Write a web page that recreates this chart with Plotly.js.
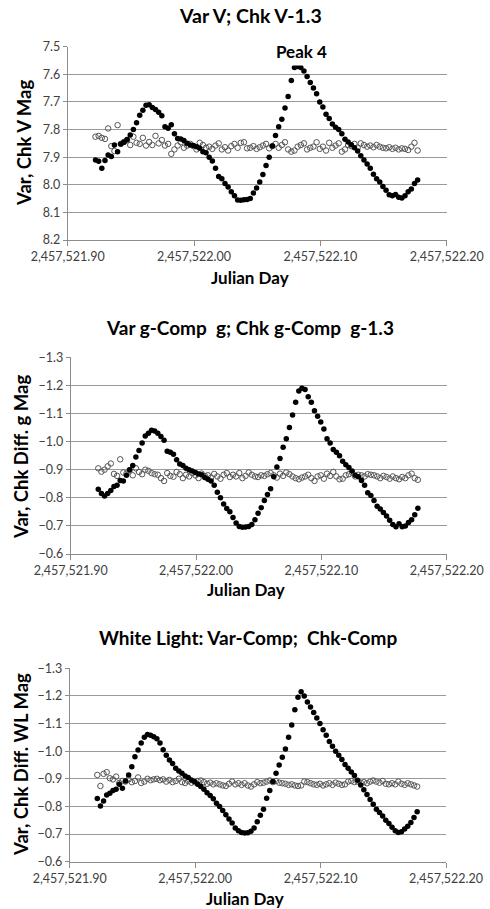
<!DOCTYPE html>
<html>
<head>
<meta charset="utf-8">
<script src="https://cdn.plot.ly/plotly-3.0.1.min.js"></script>
<style>html,body{margin:0;padding:0;background:#fff;}#chart{width:490px;height:909px;}</style>
</head>
<body>
<div id="chart"></div>
<script>
const JD0 = 2457521.9;
const dt = [
0.0220,0.0245,0.0270,0.0295,0.0320,0.0345,0.0370,0.0395,0.0420,0.0445,
0.0470,0.0495,0.0520,0.0545,0.0570,0.0595,0.0620,0.0645,0.0670,0.0695,
0.0720,0.0745,0.0770,0.0795,0.0820,0.0845,0.0870,0.0895,0.0920,0.0945,
0.0970,0.0995,0.1020,0.1045,0.1070,0.1095,0.1120,0.1145,0.1170,0.1195,
0.1220,0.1245,0.1270,0.1295,0.1320,0.1345,0.1370,0.1395,0.1420,0.1445,
0.1470,0.1495,0.1520,0.1545,0.1570,0.1595,0.1620,0.1645,0.1670,0.1695,
0.1720,0.1745,0.1770,0.1795,0.1820,0.1845,0.1870,0.1895,0.1920,0.1945,
0.1970,0.1995,0.2020,0.2045,0.2070,0.2095,0.2120,0.2145,0.2170,0.2195,
0.2220,0.2245,0.2270,0.2295,0.2320,0.2345,0.2370,0.2395,0.2420,0.2445,
0.2470,0.2495,0.2520,0.2545,0.2570,0.2595,0.2620,0.2645,0.2670,0.2695,
0.2720,0.2745,0.2770];

const varV = [
7.910,7.915,7.940,7.912,7.892,7.898,7.856,7.880,7.852,7.846,
7.836,7.820,7.800,7.775,7.748,7.730,7.712,7.710,7.720,7.727,
7.737,7.750,7.790,7.795,7.783,7.815,7.832,7.834,7.840,7.850,
7.856,7.858,7.862,7.868,7.880,7.884,7.900,7.914,7.940,7.970,
7.978,7.995,8.008,8.025,8.040,8.055,8.056,8.054,8.053,8.050,
8.030,8.012,7.990,7.963,7.930,7.900,7.860,7.822,7.790,7.763,
7.722,7.680,7.622,7.575,7.572,7.575,7.588,7.608,7.630,7.650,
7.670,7.700,7.718,7.745,7.760,7.780,7.792,7.800,7.815,7.835,
7.845,7.855,7.866,7.878,7.895,7.910,7.925,7.940,7.962,7.978,
7.990,8.006,8.020,8.036,8.040,8.035,8.045,8.048,8.040,8.025,
8.015,7.995,7.983];

const chkV = [
7.826,7.823,7.830,7.834,7.796,7.860,7.878,7.784,7.852,7.845,
7.838,7.856,7.826,7.848,7.852,7.830,7.858,7.845,7.856,7.823,
7.850,7.838,7.858,7.852,7.888,7.872,7.858,7.846,7.866,7.858,
7.852,7.860,7.872,7.848,7.856,7.866,7.862,7.870,7.858,7.850,
7.872,7.864,7.876,7.860,7.852,7.866,7.848,7.846,7.868,7.866,
7.860,7.870,7.864,7.858,7.852,7.868,7.860,7.852,7.866,7.856,
7.846,7.872,7.880,7.876,7.862,7.856,7.850,7.872,7.866,7.862,
7.846,7.870,7.862,7.876,7.848,7.866,7.858,7.850,7.880,7.872,
7.856,7.860,7.852,7.866,7.850,7.856,7.862,7.858,7.864,7.856,
7.862,7.866,7.868,7.864,7.870,7.866,7.872,7.868,7.870,7.874,
7.862,7.848,7.876];

const varG = [
-0.830,-0.815,-0.806,-0.815,-0.826,-0.840,-0.845,-0.862,-0.860,-0.880,
-0.900,-0.915,-0.945,-0.968,-0.995,-1.020,-1.030,-1.040,-1.038,-1.030,
-1.018,-1.005,-0.966,-0.962,-0.955,-0.935,-0.920,-0.915,-0.905,-0.900,
-0.895,-0.890,-0.885,-0.882,-0.872,-0.866,-0.860,-0.845,-0.820,-0.800,
-0.778,-0.762,-0.750,-0.730,-0.710,-0.698,-0.695,-0.696,-0.698,-0.705,
-0.722,-0.745,-0.765,-0.790,-0.812,-0.832,-0.875,-0.910,-0.940,-0.980,
-1.010,-1.050,-1.095,-1.140,-1.180,-1.190,-1.185,-1.160,-1.140,-1.110,
-1.090,-1.070,-1.045,-1.010,-0.995,-0.972,-0.962,-0.950,-0.930,-0.918,
-0.908,-0.895,-0.880,-0.875,-0.862,-0.845,-0.818,-0.808,-0.790,-0.770,
-0.760,-0.748,-0.735,-0.720,-0.705,-0.697,-0.708,-0.697,-0.700,-0.712,
-0.722,-0.740,-0.763];

const chkG = [
-0.905,-0.893,-0.900,-0.912,-0.922,-0.885,-0.878,-0.937,-0.890,-0.886,
-0.898,-0.880,-0.905,-0.892,-0.884,-0.900,-0.896,-0.888,-0.884,-0.882,
-0.870,-0.860,-0.888,-0.878,-0.875,-0.892,-0.884,-0.870,-0.882,-0.876,
-0.888,-0.880,-0.870,-0.886,-0.878,-0.880,-0.872,-0.885,-0.876,-0.868,
-0.882,-0.888,-0.874,-0.882,-0.876,-0.888,-0.870,-0.878,-0.890,-0.882,
-0.876,-0.874,-0.880,-0.878,-0.884,-0.888,-0.880,-0.872,-0.886,-0.878,
-0.890,-0.884,-0.876,-0.870,-0.866,-0.872,-0.876,-0.882,-0.870,-0.860,
-0.876,-0.880,-0.868,-0.886,-0.878,-0.892,-0.876,-0.866,-0.868,-0.880,
-0.884,-0.890,-0.876,-0.882,-0.880,-0.876,-0.884,-0.882,-0.880,-0.876,
-0.870,-0.878,-0.874,-0.868,-0.876,-0.870,-0.866,-0.874,-0.870,-0.880,
-0.886,-0.870,-0.864];

const varWL = [
-0.829,-0.802,-0.820,-0.841,-0.848,-0.858,-0.862,-0.880,-0.866,-0.892,
-0.914,-0.944,-0.980,-1.004,-1.030,-1.050,-1.060,-1.058,-1.052,-1.045,
-1.030,-1.005,-0.985,-0.968,-0.955,-0.938,-0.928,-0.920,-0.910,-0.905,
-0.896,-0.890,-0.880,-0.872,-0.862,-0.850,-0.840,-0.828,-0.812,-0.800,
-0.785,-0.770,-0.755,-0.740,-0.722,-0.712,-0.706,-0.704,-0.705,-0.710,
-0.722,-0.745,-0.768,-0.790,-0.830,-0.858,-0.890,-0.920,-0.950,-0.978,
-1.008,-1.050,-1.095,-1.150,-1.195,-1.215,-1.200,-1.178,-1.160,-1.140,
-1.120,-1.100,-1.078,-1.058,-1.035,-1.018,-1.000,-0.985,-0.970,-0.952,
-0.938,-0.925,-0.912,-0.895,-0.878,-0.860,-0.843,-0.825,-0.808,-0.790,
-0.778,-0.765,-0.750,-0.738,-0.725,-0.712,-0.706,-0.708,-0.718,-0.728,
-0.742,-0.760,-0.781];

const chkWL = [
-0.914,-0.874,-0.918,-0.924,-0.902,-0.898,-0.908,-0.885,-0.892,-0.890,
-0.898,-0.888,-0.892,-0.905,-0.885,-0.890,-0.900,-0.895,-0.898,-0.900,
-0.895,-0.898,-0.890,-0.896,-0.888,-0.892,-0.900,-0.888,-0.885,-0.892,
-0.886,-0.888,-0.892,-0.894,-0.888,-0.882,-0.886,-0.880,-0.884,-0.880,
-0.876,-0.874,-0.882,-0.890,-0.880,-0.884,-0.878,-0.884,-0.876,-0.872,
-0.880,-0.888,-0.884,-0.886,-0.890,-0.894,-0.888,-0.892,-0.886,-0.884,
-0.882,-0.878,-0.880,-0.876,-0.874,-0.876,-0.890,-0.888,-0.884,-0.880,
-0.878,-0.882,-0.876,-0.880,-0.884,-0.878,-0.886,-0.882,-0.878,-0.880,
-0.890,-0.892,-0.888,-0.890,-0.886,-0.888,-0.884,-0.890,-0.894,-0.890,
-0.886,-0.892,-0.882,-0.880,-0.884,-0.880,-0.890,-0.882,-0.878,-0.884,
-0.880,-0.876,-0.872];

const titles = ["Var V; Chk V-1.3", "Var g-Comp  g; Chk g-Comp  g-1.3", "White Light: Var-Comp;  Chk-Comp"];
const yTitles = ["Var, Chk V Mag", "Var, Chk Diff. g Mag", "Var, Chk Diff. WL Mag"];
const xTitle = "Julian Day";
const peakLabel = "Peak 4";

const jd = dt.map(d => JD0 + d);
const FONT = "Lato, 'Open Sans', sans-serif";

function varTrace(y, n) {
  return {x: jd, y: y, xaxis: 'x' + (n > 1 ? n : ''), yaxis: 'y' + (n > 1 ? n : ''),
    mode: 'markers', type: 'scatter', showlegend: false,
    marker: {symbol: 'circle', size: 5.5, color: '#000'}};
}
function chkTrace(y, n) {
  return {x: jd, y: y, xaxis: 'x' + (n > 1 ? n : ''), yaxis: 'y' + (n > 1 ? n : ''),
    mode: 'markers', type: 'scatter', showlegend: false,
    marker: {symbol: 'circle-open', size: 5.5, color: '#555', line: {width: 1, color: '#555'}}};
}

const data = [chkTrace(chkV, 1), varTrace(varV, 1), chkTrace(chkG, 2), varTrace(varG, 2), chkTrace(chkWL, 3), varTrace(varWL, 3)];

function xax(dom, anchor) {
  return {domain: dom, anchor: anchor, range: [JD0, JD0 + 0.3], tick0: JD0, dtick: 0.1,
    tickformat: ',.2f', showgrid: false, zeroline: false, showline: true, linecolor: '#8c8c8c', linewidth: 1,
    ticks: 'outside', ticklen: 5, tickcolor: '#8c8c8c', tickfont: {family: FONT, size: 12.5, color: '#404040'}};
}
function yax(dom, anchor, range, fmt) {
  return {domain: dom, anchor: anchor, range: range, dtick: 0.1, tickformat: fmt,
    showgrid: true, gridcolor: '#9a9a9a', gridwidth: 1, zeroline: false, showline: true, linecolor: '#8c8c8c',
    ticks: 'outside', ticklen: 4, tickcolor: '#8c8c8c', tickfont: {family: FONT, size: 12.5, color: '#404040'}};
}

const W = 490, H = 909;
const px = v => v / W, py = v => (H - v) / H;

function ann(text, x, y, size, extra) {
  return Object.assign({text: '<b>' + text + '</b>', xref: 'paper', yref: 'paper', x: px(x), y: py(y),
    xanchor: 'center', yanchor: 'middle', showarrow: false, font: {family: FONT, size: size, color: '#000'}}, extra || {});
}

const layout = {
  width: W, height: H, margin: {l: 0, r: 0, t: 0, b: 0},
  paper_bgcolor: '#fff', plot_bgcolor: '#fff', showlegend: false,
  xaxis: xax([px(67.7), px(446.7)], 'y'),
  yaxis: yax([py(240), py(46.7)], 'x', [8.2, 7.5], '.1f'),
  xaxis2: xax([px(70.7), px(446.7)], 'y2'),
  yaxis2: yax([py(554), py(357.3)], 'x2', [-0.6, -1.3], '.1f'),
  xaxis3: xax([px(69.7), px(446)], 'y3'),
  yaxis3: yax([py(861.7), py(668.3)], 'x3', [-0.6, -1.3], '.1f'),
  annotations: [
    ann(titles[0], 250, 16, 19.5),
    ann(titles[1], 250, 327, 19),
    ann(titles[2], 248, 637, 19),
    ann(xTitle, 250, 278, 17),
    ann(xTitle, 246, 589, 17),
    ann(xTitle, 245, 898, 17),
    ann(yTitles[0], 24, 143, 18.5, {textangle: -90}),
    ann(yTitles[1], 21, 457, 18.5, {textangle: -90}),
    ann(yTitles[2], 21, 765, 18.5, {textangle: -90}),
    {text: '<b>' + peakLabel + '</b>', xref: 'x', yref: 'y', x: JD0 + 0.185, y: 7.518, xanchor: 'center', yanchor: 'middle',
     showarrow: false, bgcolor: '#fff', borderpad: 3, font: {family: FONT, size: 17, color: '#000'}}
  ]
};

Plotly.newPlot('chart', data, layout, {staticPlot: true, displayModeBar: false});
</script>
</body>
</html>
